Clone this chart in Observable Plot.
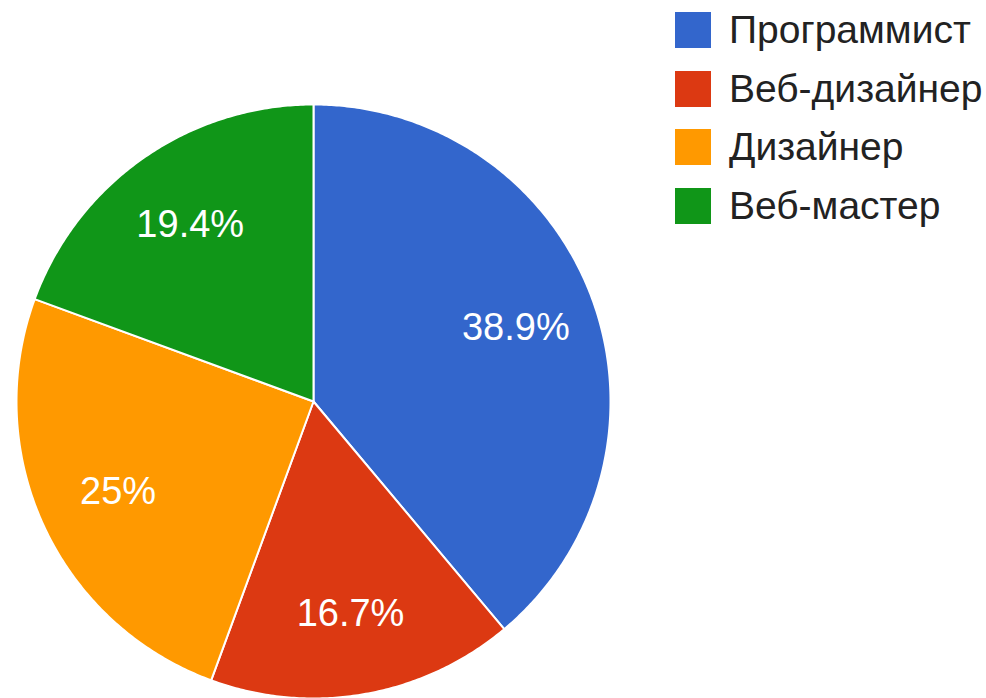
<!DOCTYPE html>
<html>
<head>
<meta charset="utf-8">
<script src="https://cdn.jsdelivr.net/npm/d3@7"></script>
<script src="https://cdn.jsdelivr.net/npm/@observablehq/plot@0.6"></script>
<style>
  html, body { margin: 0; padding: 0; background: #ffffff; }
  #wrap { position: relative; width: 986px; height: 698px; overflow: hidden; }
  #legend { position: absolute; left: 675px; top: 12px; font-family: "Liberation Sans", Arial, sans-serif; }
  .item { display: flex; align-items: center; height: 36px; margin-bottom: 22.5px; }
  .sw { width: 36px; height: 36px; margin-right: 18px; flex: none; }
  .lab { font-size: 39px; color: #222222; white-space: nowrap; line-height: 36px; }
</style>
</head>
<body>
<div id="wrap"><div id="chart"></div><div id="legend"></div></div>
<script>
const categories = ["Программист", "Веб-дизайнер", "Дизайнер", "Веб-мастер"];
const percents = [38.9, 16.7, 25, 19.4];
const colors = ["#3366cc", "#dc3912", "#ff9900", "#109618"];

// slice geometry in unit circle (angle clockwise from 12 o'clock)
const total = d3.sum(percents);
let acc = 0;
const slices = categories.map((c, i) => {
  const a0 = acc / total * 2 * Math.PI;
  acc += percents[i];
  const a1 = acc / total * 2 * Math.PI;
  return {category: c, value: percents[i], a0, a1, mid: (a0 + a1) / 2};
});
const points = [];
for (const s of slices) {
  points.push({category: s.category, x: 0, y: 0});
  const n = Math.max(2, Math.ceil((s.a1 - s.a0) / (Math.PI / 360)));
  for (let k = 0; k <= n; k++) {
    const a = s.a0 + (s.a1 - s.a0) * k / n;
    points.push({category: s.category, x: Math.sin(a), y: Math.cos(a)});
  }
}

const cx = 313, cy = 401, R = 297, labelR = 0.725;

const chart = Plot.plot({
  width: 986,
  height: 698,
  margin: 0,
  x: {domain: [-1, 1], range: [cx - R, cx + R], axis: null},
  y: {domain: [-1, 1], range: [cy + R, cy - R], axis: null},
  color: {domain: categories, range: colors},
  marks: [
    Plot.line(points, {x: "x", y: "y", z: "category", fill: "category", stroke: "white", strokeWidth: 2, curve: "linear-closed"}),
    Plot.text(slices, {
      x: d => labelR * Math.sin(d.mid),
      y: d => labelR * Math.cos(d.mid),
      text: d => `${d.value}%`,
      fill: "white",
      fontSize: 38,
      fontFamily: "Liberation Sans, Arial, sans-serif"
    })
  ]
});
document.getElementById("chart").appendChild(chart);

const legend = document.getElementById("legend");
categories.forEach((c, i) => {
  const item = document.createElement("div");
  item.className = "item";
  const sw = document.createElement("div");
  sw.className = "sw";
  sw.style.background = colors[i];
  const lab = document.createElement("div");
  lab.className = "lab";
  lab.textContent = c;
  item.appendChild(sw);
  item.appendChild(lab);
  legend.appendChild(item);
});
</script>
</body>
</html>
